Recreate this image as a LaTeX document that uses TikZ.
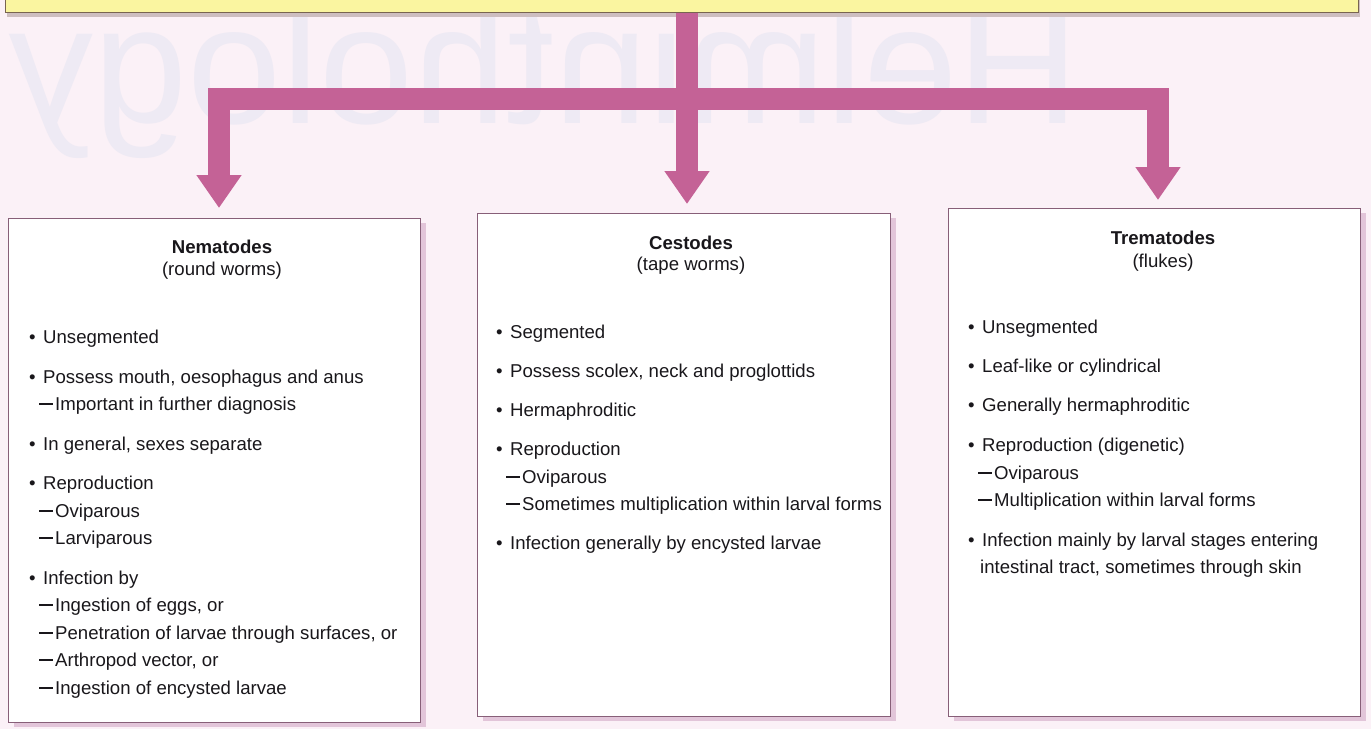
\documentclass[tikz,border=0pt]{standalone}
\usepackage{fontspec}
\setmainfont{Liberation Sans}
\usetikzlibrary{arrows.meta,shadows,calc}
\definecolor{bg}{RGB}{251,241,247}
\definecolor{arrowpink}{RGB}{196,98,150}
\definecolor{wmc}{RGB}{238,234,244}
\definecolor{yel}{RGB}{250,245,160}
\definecolor{topline}{RGB}{120,100,80}
\definecolor{topshadow}{RGB}{205,190,192}
\definecolor{boxline}{RGB}{135,95,120}
\definecolor{shadowc}{RGB}{226,197,217}
\definecolor{txtc}{RGB}{25,23,27}
\tikzset{
  panel/.style={draw=boxline, line width=0.9pt, fill=white, inner sep=0pt, anchor=north west,
    drop shadow={shadow xshift=6pt, shadow yshift=-5pt, fill=shadowc, opacity=1}},
  topbox/.style={draw=topline, line width=0.9pt, fill=yel, inner sep=0pt, anchor=south west,
    drop shadow={shadow xshift=2pt, shadow yshift=-4pt, fill=topshadow, opacity=1}},
  pinkline/.style={draw=arrowpink, line width=22pt, line join=miter},
  pinkarrow/.style={pinkline, -{Triangle[width=43pt,length=33pt]}},
  txt/.style={anchor=base west, inner sep=0pt, text=txtc, font=\fontsize{18.6}{22}\selectfont},
  ttl/.style={anchor=base, inner sep=0pt, text=txtc, font=\fontsize{18.6}{22}\selectfont},
}
\newcommand\bl[3]{\node[txt] (#1) at (#2) {\makebox[14pt][l]{\textbullet}#3};}
\newcommand\dl[3]{\node[txt] (#1) at (#2) {\makebox[16pt][l]{\rule[5pt]{13.4pt}{2pt}}#3};}
\begin{document}
\begin{tikzpicture}[x=1pt,y=-1pt]
\useasboundingbox (0,0) rectangle (1371,729);
\fill[bg] (0,0) rectangle (1371,729);
% show-through watermark (mirrored)
\begin{scope}[shift={(1080,123)}, xscale=-1]
\node[transform shape, anchor=base west, inner sep=0pt, text=wmc, font=\fontsize{169}{169}\selectfont] (wm) at (0,0) {Helminthology};
\end{scope}
% top box
\node[topbox, minimum width=1353pt, minimum height=40pt] (top) at (5,13) {};
% boxes
\node[panel, minimum width=412pt, minimum height=504pt] (nem) at (8,218) {};
\node[panel, minimum width=413pt, minimum height=503pt] (ces) at (477,213) {};
\node[panel, minimum width=412pt, minimum height=508pt] (tre) at (948,208) {};
% connectors
\coordinate (j) at (687,99);
\coordinate (aL) at (219,208);
\coordinate (aC) at (687,204);
\coordinate (aR) at (1158,200);
\draw[pinkline] (top.south -| j) -- (j);
\draw[pinkarrow] (j) -| (aL);
\draw[pinkarrow] (j) -| (aR);
\draw[pinkarrow] (j) -- (aC);
% Nematodes
\node[ttl] (nT1) at (222,253) {\textbf{Nematodes}};
\node[ttl] (nT2) at (222,275) {(round worms)};
\bl{n1}{29,343}{Unsegmented}
\bl{n2}{29,383}{Possess mouth, oesophagus and anus}
\dl{n3}{39,410}{Important in further diagnosis}
\bl{n4}{29,450}{In general, sexes separate}
\bl{n5}{29,489}{Reproduction}
\dl{n6}{39,517}{Oviparous}
\dl{n7}{39,544}{Larviparous}
\bl{n8}{29,584}{Infection by}
\dl{n9}{39,611}{Ingestion of eggs, or}
\dl{n10}{39,639}{Penetration of larvae through surfaces, or}
\dl{n11}{39,666}{Arthropod vector, or}
\dl{n12}{39,694}{Ingestion of encysted larvae}
% Cestodes
\node[ttl] (cT1) at (691,249) {\textbf{Cestodes}};
\node[ttl] (cT2) at (691,270) {(tape worms)};
\bl{c1}{496,338}{Segmented}
\bl{c2}{496,377}{Possess scolex, neck and proglottids}
\bl{c3}{496,416}{Hermaphroditic}
\bl{c4}{496,455}{Reproduction}
\dl{c5}{506,483}{Oviparous}
\dl{c6}{506,510}{Sometimes multiplication within larval forms}
\bl{c7}{496,549}{Infection generally by encysted larvae}
% Trematodes
\node[ttl] (tT1) at (1163,244) {\textbf{Trematodes}};
\node[ttl] (tT2) at (1163,267) {(flukes)};
\bl{t1}{968,333}{Unsegmented}
\bl{t2}{968,372}{Leaf-like or cylindrical}
\bl{t3}{968,411}{Generally hermaphroditic}
\bl{t4}{968,451}{Reproduction (digenetic)}
\dl{t5}{978,479}{Oviparous}
\dl{t6}{978,506}{Multiplication within larval forms}
\bl{t7}{968,546}{Infection mainly by larval stages entering}
\node[txt] (t8) at (980,573) {intestinal tract, sometimes through skin};
\end{tikzpicture}
\end{document}
